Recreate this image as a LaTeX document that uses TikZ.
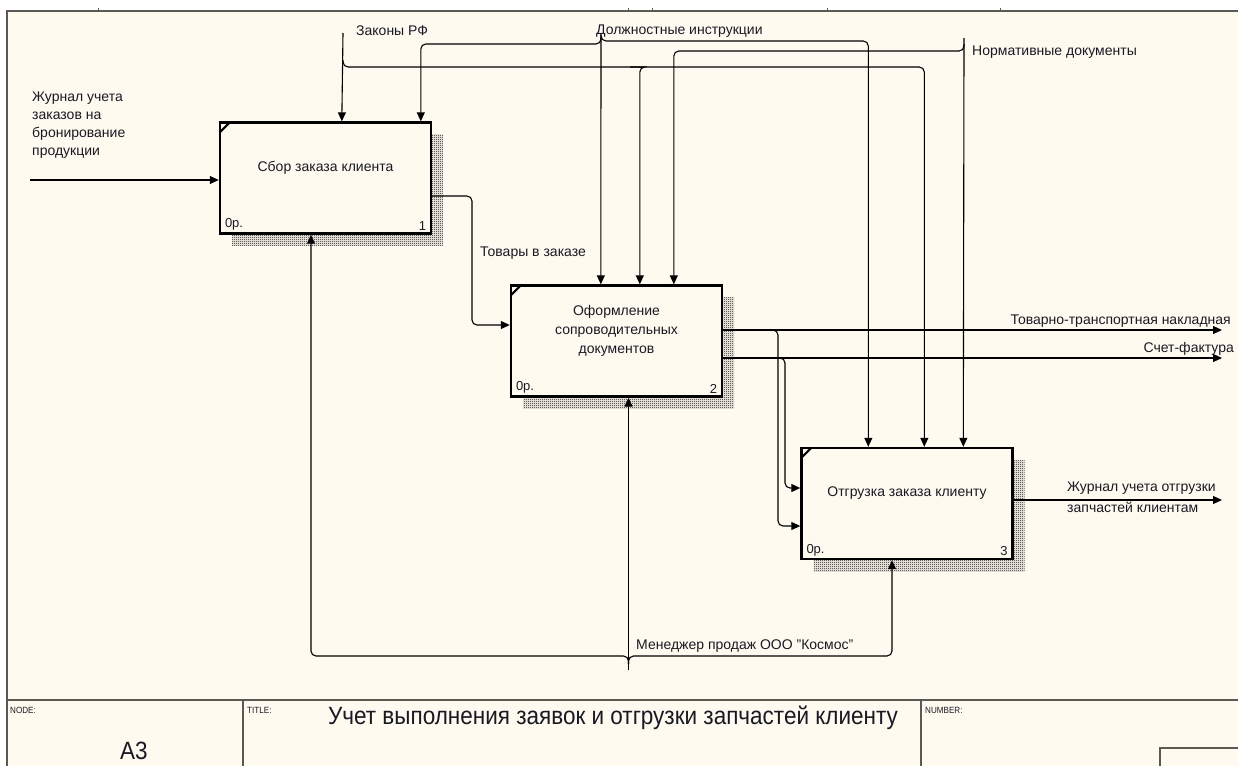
\documentclass[tikz,border=0pt]{standalone}
\usepackage{fontspec}
\setmainfont{Liberation Sans}
\newfontfamily\narrowfont[FakeStretch=0.9]{Liberation Sans}
\usetikzlibrary{arrows.meta,calc,patterns,shadows}
\definecolor{paper}{RGB}{255,250,240}
\definecolor{ink}{RGB}{25,25,35}
\definecolor{rule}{RGB}{90,90,85}

% fine checkerboard used for the box shadows
\pgfdeclarepatternformonly{finechecker}{\pgfpointorigin}{\pgfpoint{2pt}{2pt}}{\pgfpoint{2pt}{2pt}}{%
  \pgfpathrectangle{\pgfpointorigin}{\pgfpoint{1pt}{1pt}}%
  \pgfpathrectangle{\pgfpoint{1pt}{1pt}}{\pgfpoint{1pt}{1pt}}%
  \pgfusepath{fill}}

\begin{document}
\begin{tikzpicture}[x=1pt,y=-1pt,
  box/.style={draw=black, line width=2.4pt, fill=paper, minimum width=211pt,
    minimum height=111pt, inner sep=0pt,
    drop shadow={shadow xshift=12pt, shadow yshift=-12pt, opacity=1,
      pattern=finechecker, pattern color=black!95}},
  lbl/.style={font=\fontsize{14}{18}\selectfont, text=ink, inner sep=0pt},
  tag/.style={font=\fontsize{13}{14}\selectfont, text=ink, inner sep=0pt},
  arr/.style={draw=black, line width=1.1pt, rounded corners=5pt,
    -{Triangle[length=9pt,width=8pt]}},
  frame/.style={draw=rule, line width=1.4pt},
  head/.style={anchor=north west, inner sep=0pt, font=\narrowfont\fontsize{9}{10}\selectfont, text=ink},
]
\useasboundingbox (0,0) rectangle (1238,766);
\fill[white] (0,0) rectangle (1238,766);
\fill[paper] (7,11) rectangle (1238,766);

% sheet frame and title block
\draw[frame] (7,766) -- (7,11) -- (1238,11);
\foreach \t in {98,628,652,827,1000} \draw[rule, line width=0.8pt] (\t,8) -- (\t,11);
\draw[frame] (7,700) -- (1238,700);
\draw[frame] (243,700) -- (243,766);
\draw[frame] (921,700) -- (921,766);
\draw[frame] (1160,766) -- (1160,748) -- (1238,748);
\node[head] (nodeh) at (10,707) {NODE:};
\node[head] (titleh) at (247,707) {TITLE:};
\node[head] (numh) at (925,707) {NUMBER:};
\node[inner sep=0pt, font=\narrowfont\fontsize{25}{27}\selectfont, text=ink] (nodeid) at (134,751) {A3};
\node[inner sep=0pt, font=\narrowfont\fontsize{25}{28}\selectfont, text=ink] (title) at (613,718) {Учет выполнения заявок и отгрузки запчастей клиенту};

% activity boxes
\node[box] (b1) at (325.5,178) {};
\node[box] (b2) at (616.5,341) {};
\node[box] (b3) at (907,503.5) {};
\foreach \b in {b1,b2,b3}
  \draw[line width=2pt] ([xshift=1pt,yshift=-11pt]\b.north west) -- ([xshift=11pt,yshift=-1pt]\b.north west);

\node[lbl] (b1t) at ([yshift=10pt]b1.center) {Сбор заказа клиента};
\node[lbl, align=center, font=\fontsize{14}{19}\selectfont] (b2t) at ([yshift=10pt]b2.center) {Оформление\\сопроводительных\\документов};
\node[lbl] (b3t) at ([yshift=10pt]b3.center) {Отгрузка заказа клиенту};
\foreach \b/\n in {b1/1,b2/2,b3/3}{
  \node[tag, anchor=south west] at ([xshift=6pt,yshift=4pt]\b.south west) {0р.};
  \node[tag, anchor=south east] at ([xshift=-6pt,yshift=4pt]\b.south east) {\n};
}

% control points on the box tops
\coordinate (b1c1) at ([xshift=123pt]b1.north west);
\coordinate (b1c2) at ([xshift=202pt]b1.north west);
\coordinate (b2c1) at ([xshift=91pt]b2.north west);
\coordinate (b2c2) at ([xshift=130pt]b2.north west);
\coordinate (b2c3) at ([xshift=164pt]b2.north west);
\coordinate (b3c1) at ([xshift=68pt]b3.north west);
\coordinate (b3c2) at ([xshift=124pt]b3.north west);
\coordinate (b3c3) at ([xshift=163pt]b3.north west);

% free ends at the border
\coordinate (zak) at (343,33);
\coordinate (dol) at (601,33);
\coordinate (nor) at (964,38);
\coordinate (jur) at (30,180);
\coordinate (men) at (628.5,670);
\coordinate (ttn) at (1222,330);
\coordinate (sf) at (1222,358);
\coordinate (jo) at (1222,500);

% controls
\draw[arr] (zak) -- (b1c1);
\draw[arr] (343,60) -- (343,67) -| (b3c2);
\draw[arr] (630,67) -- (640,67) -| (b2c2);
\draw[arr] (dol) -- (b2c1);
\draw[arr] (601,37) -- (601,44) -| (b1c2);
\draw[arr] (601,35) -- (601,41) -| (b3c1);
\draw[arr] (nor) -- (b3c3);
\draw[arr] (964,44) -- (964,51) -| (b2c3);

\node[lbl, anchor=west] (zakl) at (356,31) {Законы РФ};
\node[lbl, anchor=west] (doll) at (596,31) {Должностные инструкции};
\node[lbl, anchor=west] (norl) at (972,52) {Нормативные документы};

% input
\draw[arr] (jur) -- (jur -| b1.west);
\node[lbl, anchor=north west, align=left] (jurl) at (32,92) {Журнал учета\\заказов на\\бронирование\\продукции};

% box 1 to box 2
\draw[arr] ([yshift=-18pt]b1.east) -- (472,196) |- ([yshift=16pt]b2.west);
\node[lbl, anchor=west] (tovl) at (480,253) {Товары в заказе};

% outputs of box 2
\draw[arr] ([yshift=11pt]b2.east) -- (ttn);
\draw[arr] ([yshift=-17pt]b2.east) -- (sf);
\draw[arr] (772,330) -- (778,330) |- ([yshift=-22.5pt]b3.west);
\draw[arr] (779,358) -- (785,358) |- ([yshift=15.5pt]b3.west);
\node[lbl, anchor=east] (ttnl) at (1231,321) {Товарно-транспортная накладная};
\node[lbl, anchor=east] (sfl) at (1234,349) {Счет-фактура};

% output of box 3
\draw[arr] ([yshift=3.5pt]b3.east) -- (jo);
\node[lbl, anchor=west] (jol1) at (1067,488) {Журнал учета отгрузки};
\node[lbl, anchor=west] (jol2) at (1067,507) {запчастей клиентам};

% mechanism
\draw[arr] (men) -- (men |- b2.south);
\draw[arr] (628.5,664) -- (628.5,656) -| ([xshift=-14.5pt]b1.south);
\draw[arr] (628.5,664) -- (628.5,656) -| ([xshift=-15pt]b3.south);
\node[lbl, anchor=west] (menl) at (636,646) {Менеджер продаж ООО "Космос"};
\end{tikzpicture}
\end{document}
